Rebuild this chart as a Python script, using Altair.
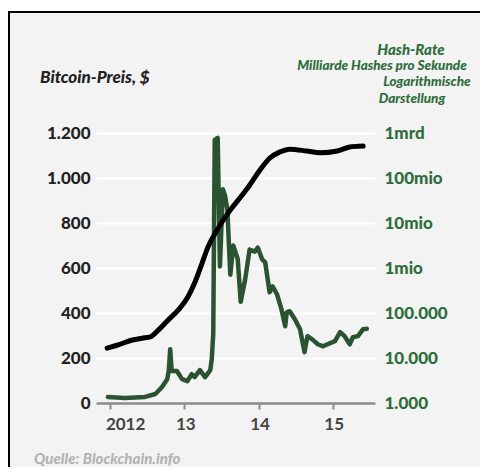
import altair as alt
import pandas as pd

# ---- data ----
price_year = [2011.97, 2012.20, 2012.47, 2012.61, 2012.70, 2012.77, 2012.79, 2012.81, 2012.83, 2012.90,
              2012.97, 2013.04, 2013.10, 2013.14, 2013.21, 2013.28, 2013.35, 2013.37, 2013.39, 2013.41,
              2013.45, 2013.48, 2013.52, 2013.55, 2013.58, 2013.62, 2013.66, 2013.72, 2013.76, 2013.82,
              2013.88, 2013.95, 2013.99, 2014.05, 2014.09, 2014.15, 2014.19, 2014.25, 2014.31, 2014.36,
              2014.38, 2014.42, 2014.49, 2014.56, 2014.62, 2014.66, 2014.72, 2014.80, 2014.87, 2014.93,
              2015.03, 2015.10, 2015.16, 2015.23, 2015.27, 2015.34, 2015.41, 2015.46]
price_usd = [27, 22, 27, 40, 71, 106, 142, 239, 142, 142,
             106, 97, 128, 115, 146, 115, 146, 195, 306, 1169,
             1178, 607, 950, 920, 860, 570, 700, 640, 450, 549,
             682, 673, 691, 638, 625, 492, 518, 483, 416, 341,
             403, 408, 372, 328, 226, 297, 284, 261, 252, 261,
             275, 315, 297, 261, 292, 297, 328, 330]

hash_year = [2011.96, 2012.11, 2012.30, 2012.43, 2012.54, 2012.65, 2012.78, 2012.92, 2013.05, 2013.14,
             2013.24, 2013.32, 2013.44, 2013.59, 2013.78, 2013.88, 2014.02, 2014.15, 2014.29, 2014.42,
             2014.65, 2014.83, 2015.06, 2015.23, 2015.41]
hash_rate = [16600, 19500, 25100, 27500, 29500, 41700, 69200, 117500, 229000, 468000,
             1290000, 2950000, 6920000, 16600000, 41700000, 69200000, 151000000, 275000000,
             380000000, 437000000, 398000000, 363000000, 398000000, 490000000, 513000000]

price_ticks = [0, 200, 400, 600, 800, 1000, 1200]
hash_ticks = [1e3, 1e4, 1e5, 1e6, 1e7, 1e8, 1e9]
hash_tick_labels = ["1.000", "10.000", "100.000", "1mio", "10mio", "100mio", "1mrd"]
year_ticks = [2012, 2013, 2014, 2015]
year_tick_labels = ["2012", "13", "14", "15"]

title_left = "Bitcoin-Preis, $"
title_right = ["Hash-Rate", "Milliarde Hashes pro Sekunde", "Logarithmische", "Darstellung"]
source = "Quelle: Blockchain.info"

n = min(len(price_year), len(price_usd))
price_df = pd.DataFrame({"year": price_year[:n], "price": price_usd[:n]})
hash_df = pd.DataFrame({"year": hash_year, "hash": hash_rate})

GREEN_LINE = "#2b5331"
GREEN_TEXT = "#2e6d3b"
FONT = "Lato"

def expr_map(vals, labels):
    parts = ""
    for v, l in zip(vals[:-1], labels[:-1]):
        parts += f"datum.value == {v} ? '{l}' : "
    return parts + f"'{labels[-1]}'"

xscale = alt.Scale(domain=[2011.81, 2015.57], nice=False, zero=False)
xaxis = alt.Axis(values=year_ticks, labelExpr=expr_map(year_ticks, year_tick_labels), title=None,
                 grid=False, domainColor="#8a8a8a", domainWidth=2.5, tickColor="#8a8a8a",
                 tickWidth=2, tickSize=6, labelFont=FONT, labelFontWeight="bold", labelFontSize=17,
                 labelColor="#444444", labelPadding=7,
                 labelOffset={"condition": {"test": f"datum.value == {year_ticks[0]}", "value": 15},
                              "value": 1})

price_line = alt.Chart(price_df).mark_line(color=GREEN_LINE, strokeWidth=4.5, strokeJoin="round",
                                           strokeCap="round").encode(
    x=alt.X("year:Q", scale=xscale, axis=xaxis),
    y=alt.Y("price:Q", scale=alt.Scale(domain=[0, 1200], nice=False),
            axis=alt.Axis(orient="left", values=price_ticks, title=None, domain=False, ticks=False,
                          grid=True, gridColor="white", gridWidth=2,
                          labelExpr="replace(format(datum.value, ','), ',', '.')",
                          labelFont=FONT, labelFontWeight=900, labelFontSize=17,
                          labelColor="#222222", labelPadding=6)),
)

hash_line = alt.Chart(hash_df).mark_line(color="black", strokeWidth=5, interpolate="monotone",
                                         strokeCap="round").encode(
    x=alt.X("year:Q", scale=xscale, axis=xaxis),
    y=alt.Y("hash:Q", scale=alt.Scale(type="log", domain=[1e3, 1e9], nice=False),
            axis=alt.Axis(orient="right", values=hash_ticks, title=None, domain=False, ticks=False,
                          grid=False, labelExpr=expr_map(hash_ticks, hash_tick_labels),
                          labelFont=FONT, labelFontWeight=900, labelFontSize=17,
                          labelColor=GREEN_TEXT, labelPadding=9)),
)

one = pd.DataFrame({"a": [0]})

def txt(text, x, y, size, color, align="left"):
    return alt.Chart(one).mark_text(text=text, font=FONT, fontWeight=900, fontStyle="italic",
                                    fontSize=size, color=color, align=align, baseline="middle").encode(
        x=alt.value(x), y=alt.value(y))

white_strip = alt.Chart(one).mark_rect(color="white").encode(
    x=alt.value(-90), x2=alt.value(420), y=alt.value(-126), y2=alt.value(-122))
border_top = alt.Chart(one).mark_rule(color="black", strokeWidth=2).encode(
    x=alt.value(-88), x2=alt.value(420), y=alt.value(-121))
border_left = alt.Chart(one).mark_rule(color="black", strokeWidth=2).encode(
    x=alt.value(-87), y=alt.value(-122), y2=alt.value(400))

texts = [
    txt(title_left, -56, -55, 17, "#222222"),
    txt(title_right[0], 315, -83, 15, GREEN_TEXT, "center"),
    txt(title_right[1], 286, -67, 13.5, GREEN_TEXT, "center"),
    txt(title_right[2], 331, -51, 13.5, GREEN_TEXT, "center"),
    txt(title_right[3], 316, -34, 13.5, GREEN_TEXT, "center"),
    txt(source, -62, 326, 15, "#b3b3b3"),
]

chart = alt.layer(price_line, hash_line, white_strip, border_top, border_left, *texts).resolve_scale(
    y="independent"
).properties(
    width=279, height=270,
    autosize=alt.AutoSizeParams(type="none"),
    padding={"left": 88, "top": 125, "right": 105, "bottom": 64},
    background="#f3f3f3",
).configure_view(stroke=None)

chart.save("out.html", embed_options={"renderer": "svg", "actions": False})
